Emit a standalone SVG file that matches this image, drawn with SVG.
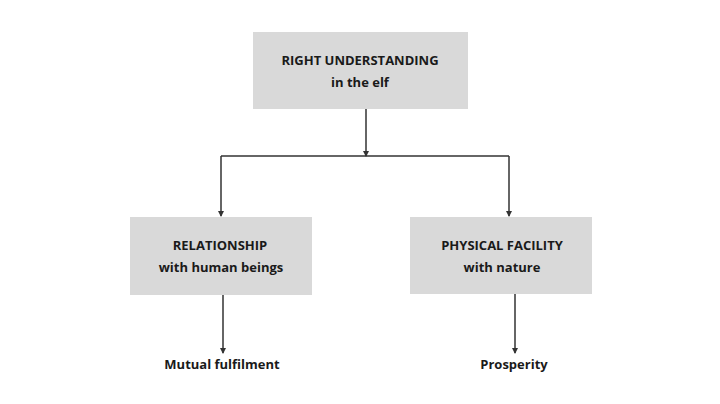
<svg xmlns="http://www.w3.org/2000/svg" width="720" height="404" viewBox="0 0 720 404">
<style>
.box{fill:#d9d9d9}
text{font-family:"Open Sans",sans-serif;font-weight:bold;font-size:13px;fill:#1a1a1a;text-anchor:middle}
.ln{stroke:#333;stroke-width:1.5;fill:none}
</style>
<defs><marker id="a" viewBox="0 0 6 6" refX="5" refY="3" markerWidth="4" markerHeight="4" orient="auto"><path d="M0,0L6,3L0,6z" fill="#333"/></marker></defs>
<rect width="720" height="404" fill="#fff"/>
<g id="connectors">
<path class="ln" d="M366,109V156" marker-end="url(#a)"/>
<path class="ln" d="M221,156H509"/>
<path class="ln" d="M221,156V216" marker-end="url(#a)"/>
<path class="ln" d="M509,156V216" marker-end="url(#a)"/>
<path class="ln" d="M223,295V353" marker-end="url(#a)"/>
<path class="ln" d="M515,294V353" marker-end="url(#a)"/>
</g>
<g id="top"><rect class="box" x="253" y="32" width="215" height="77"/><text x="360" y="65">RIGHT UNDERSTANDING</text><text x="360" y="87">in the elf</text></g>
<g id="rel"><rect class="box" x="130" y="217" width="182" height="78"/><text x="220" y="250">RELATIONSHIP</text><text x="221" y="272">with human beings</text></g>
<g id="phys"><rect class="box" x="410" y="217" width="182" height="77"/><text x="502" y="250">PHYSICAL FACILITY</text><text x="502" y="272">with nature</text></g>
<g id="mutual"><text x="222" y="369">Mutual fulfilment</text></g>
<g id="pros"><text x="514" y="369">Prosperity</text></g>
</svg>
